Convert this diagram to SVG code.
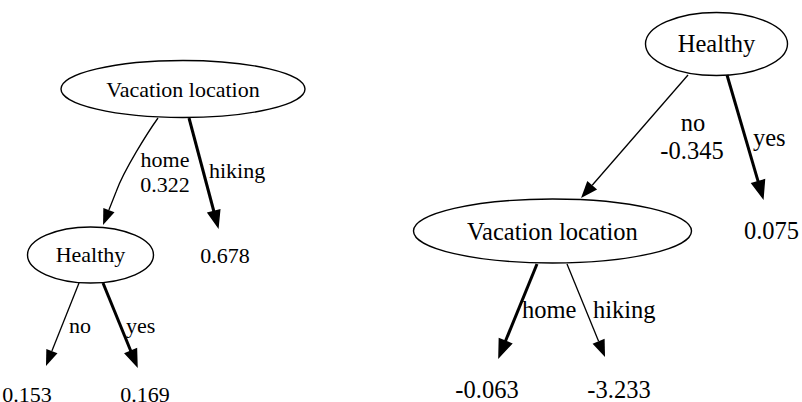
<svg xmlns="http://www.w3.org/2000/svg" width="802" height="402" viewBox="0 0 802 402">
<style>
.node ellipse{fill:none;stroke:#000;stroke-width:1.4}
text{font-family:"Liberation Serif","DejaVu Serif","Times New Roman",serif;fill:#000}
.l text{font-size:22px}
.r text{font-size:24.5px}
.thin{fill:none;stroke:#000;stroke-width:1.3}
.thick{fill:none;stroke:#000;stroke-width:3}
.m{text-anchor:middle}
</style>
<defs>
<marker id="aL" markerUnits="userSpaceOnUse" markerWidth="18" markerHeight="14" refX="0" refY="6.5" orient="auto" overflow="visible"><path d="M0,0.5 L16,6.5 L0,12.5 z" fill="#000"/></marker>
<marker id="aLb" markerUnits="userSpaceOnUse" markerWidth="18" markerHeight="14" refX="0" refY="6.5" orient="auto" overflow="visible"><path d="M0,0.5 L16,6.5 L0,12.5 z" fill="#000" stroke="#000" stroke-width="1.5"/></marker>
<marker id="aR" markerUnits="userSpaceOnUse" markerWidth="19" markerHeight="16" refX="0" refY="7" orient="auto" overflow="visible"><path d="M0,0.5 L17,7 L0,13.5 z" fill="#000"/></marker>
<marker id="aRb" markerUnits="userSpaceOnUse" markerWidth="19" markerHeight="16" refX="0" refY="7" orient="auto" overflow="visible"><path d="M0,0.5 L17,7 L0,13.5 z" fill="#000" stroke="#000" stroke-width="1.5"/></marker>
</defs>

<g id="edges">
<g class="l">
<path class="thin" d="M158,118 C148,132 124,170 116.2,191.5 L108.9,210.1" marker-end="url(#aL)"/>
<path class="thick" d="M189,118 L213.9,211.5" marker-end="url(#aLb)"/>
<path class="thin" d="M79,283 L51.9,351.1" marker-end="url(#aL)"/>
<path class="thick" d="M103,283 L130.9,351.2" marker-end="url(#aLb)"/>
<text class="m" x="165" y="167">home</text>
<text class="m" x="165" y="192">0.322</text>
<text x="209" y="178">hiking</text>
<text x="69" y="333">no</text>
<text x="126" y="333">yes</text>
</g>
<g class="r">
<path class="thin" d="M688,75 L592.2,185.2" marker-end="url(#aR)"/>
<path class="thick" d="M727,75 L758.2,181.7" marker-end="url(#aRb)"/>
<path class="thick" d="M537,264 L505.4,341.3" marker-end="url(#aRb)"/>
<path class="thin" d="M567,264 L598.6,341.3" marker-end="url(#aR)"/>
<text class="m" x="693" y="131">no</text>
<text class="m" x="692" y="159">-0.345</text>
<text x="753" y="146">yes</text>
<text x="522" y="318">home</text>
<text x="593" y="318">hiking</text>
</g>
</g>

<g id="left-vacation" class="node l">
<ellipse cx="183" cy="89" rx="122" ry="28.5"/>
<text class="m" x="183" y="97">Vacation location</text>
</g>
<g id="left-healthy" class="node l">
<ellipse cx="90.5" cy="255" rx="63" ry="28"/>
<text class="m" x="90.5" y="262">Healthy</text>
</g>
<g id="left-leaf-hiking" class="l"><text class="m" x="225" y="263">0.678</text></g>
<g id="left-leaf-no" class="l"><text class="m" x="27" y="402">0.153</text></g>
<g id="left-leaf-yes" class="l"><text class="m" x="145" y="402">0.169</text></g>

<g id="right-healthy" class="node r">
<ellipse cx="716.5" cy="44" rx="71" ry="31.5"/>
<text class="m" x="716.5" y="52">Healthy</text>
</g>
<g id="right-vacation" class="node r">
<ellipse cx="552.5" cy="231" rx="139" ry="32"/>
<text class="m" x="552.5" y="240">Vacation location</text>
</g>
<g id="right-leaf-yes" class="r"><text class="m" x="771.5" y="239">0.075</text></g>
<g id="right-leaf-home" class="r"><text class="m" x="487" y="398">-0.063</text></g>
<g id="right-leaf-hiking" class="r"><text class="m" x="619" y="398">-3.233</text></g>
</svg>
